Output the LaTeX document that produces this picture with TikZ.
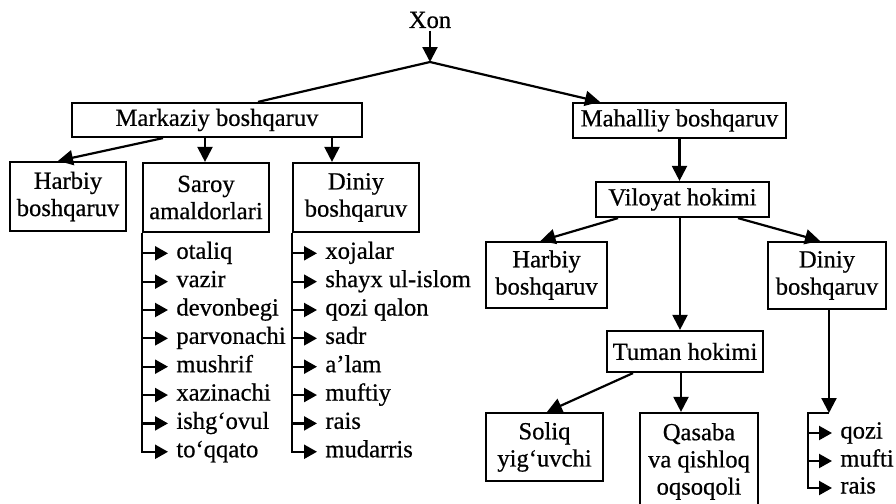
\documentclass[tikz,border=0pt]{standalone}
\usepackage{fontspec}
\setmainfont[FakeBold=0.6]{Liberation Serif}
\usetikzlibrary{arrows.meta,calc}
\begin{document}
\begin{tikzpicture}[x=0.5pt,y=-0.5pt, font=\fontsize{12.3}{13.6}\selectfont,
  box/.style={draw, line width=1.1pt, align=center, inner sep=0pt},
  con/.style={line width=1.1pt},
  arr/.style={line width=1.1pt, -{Triangle[length=7.5pt,width=7.5pt]}},
  sarr/.style={line width=1.1pt, -{Triangle[length=6.5pt,width=7pt]}, shorten >=4pt},
  item/.style={anchor=west, inner sep=0pt, text height=8pt, text depth=2.5pt}]
\useasboundingbox (0,0) rectangle (896,504);

% boxes
\node[box, minimum width=145pt, minimum height=17pt] (mark) at (217,120) {Markaziy boshqaruv};
\node[box, minimum width=58pt, minimum height=34.5pt] (harL) at (68,196.5) {Harbiy\\boshqaruv};
\node[box, minimum width=63pt, minimum height=34.5pt] (saroy) at (206,197.5) {Saroy\\amaldorlari};
\node[box, minimum width=63pt, minimum height=34.5pt] (dinL) at (356,197.5) {Diniy\\boshqaruv};
\node[box, minimum width=106.5pt, minimum height=17.5pt] (mah) at (679.5,120.5) {Mahalliy boshqaruv};
\node[box, minimum width=86.5pt, minimum height=17.5pt] (vil) at (682.5,199.5) {Viloyat hokimi};
\node[box, minimum width=60.5pt, minimum height=33pt] (harR) at (546.5,275) {Harbiy\\boshqaruv};
\node[box, minimum width=59pt, minimum height=33.5pt] (dinR) at (827,275.5) {Diniy\\boshqaruv};
\node[box, minimum width=78pt, minimum height=20.5pt] (tum) at (685,351.5) {Tuman hokimi};
\node[box, minimum width=58.5pt, minimum height=34pt] (sol) at (544.5,447) {Soliq\\yig‘uvchi};
\node[box, minimum width=59pt, minimum height=48.5pt] (qas) at (699,461.5) {Qasaba\\va qishloq\\oqsoqoli};

% top
\node[inner sep=1pt] (xon) at (430,20) {Xon};
\coordinate (J) at (430,62);
\draw[arr] (xon.south) -- (J);
\draw[con] (J) -- ($(mark.north)+(41,0)$);
\draw[arr] (J) -- ($(mah.north)+(-79.5,0)$);

% central branch
\draw[arr] ($(mark.south)+(-54,0)$) -- ($(harL.north)+(-10,0)$);
\coordinate (sart) at ($(saroy.north)+(-1,0)$);
\draw[arr] (mark.south -| sart) -- (sart);
\coordinate (dinLt) at ($(dinL.north)+(-24,0)$);
\draw[arr] (mark.south -| dinLt) -- (dinLt);

% local branch
\draw[arr] (mah.south) -- (mah.south |- vil.north);
\draw[arr] ($(vil.south)+(-64.5,0)$) -- ($(harR.north)+(-6,0)$);
\draw[arr] ($(vil.south)+(55.5,0)$) -- ($(dinR.north)+(-7,0)$);
\coordinate (vt) at ($(tum.north)+(-5,0)$);
\draw[arr] (vil.south -| vt) -- (vt);
\draw[arr] ($(tum.south)+(-52,0)$) -- ($(sol.north)+(2.5,0)$);
\coordinate (tq) at ($(tum.south)+(-4,0)$);
\draw[arr] (tq) -- (tq |- qas.north);

% Saroy list
\foreach \t [count=\i] in {otaliq,vazir,devonbegi,parvonachi,mushrif,xazinachi,ishg‘ovul,to‘qqato}
  \node[item] (s\i) at (176,{253.3+28.35*(\i-1)}) {\t};
\draw[sarr] (saroy.south west) |- (s8.west);
\foreach \i in {1,...,7}
  \draw[sarr] (saroy.south west |- s\i.west) -- (s\i.west);

% Diniy list
\foreach \t [count=\i] in {xojalar,shayx ul-islom,qozi qalon,sadr,a’lam,muftiy,rais,mudarris}
  \node[item] (d\i) at (325,{253.3+28.35*(\i-1)}) {\t};
\draw[sarr] (dinL.south west) |- (d8.west);
\foreach \i in {1,...,7}
  \draw[sarr] (dinL.south west |- d\i.west) -- (d\i.west);

% right Diniy list
\node[item] (r1) at (840,433) {qozi};
\node[item] (r2) at (840,461) {mufti};
\node[item] (r3) at (840,488) {rais};
\coordinate (dr) at ($(dinR.south)+(2,0)$);
\coordinate (rj) at (829,413);
\coordinate (rl) at (808,413);
\draw[arr] (dr) -- (rj);
\draw[sarr] (rj) -- (rl) |- (r3.west);
\draw[sarr] (rl |- r1.west) -- (r1.west);
\draw[sarr] (rl |- r2.west) -- (r2.west);
\end{tikzpicture}
\end{document}
